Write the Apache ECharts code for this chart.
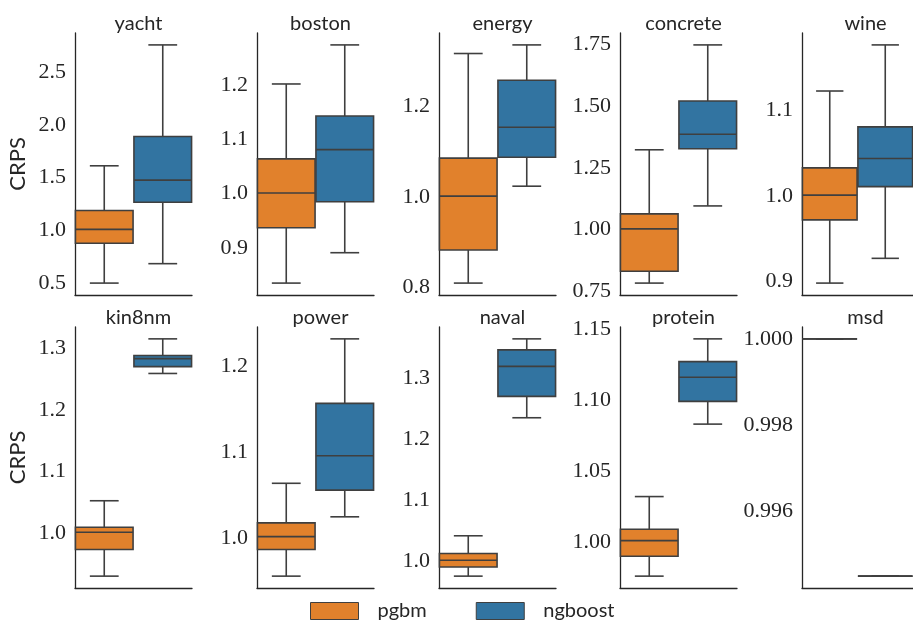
<!DOCTYPE html>
<html>
<head>
<meta charset="utf-8">
<script src="https://cdn.jsdelivr.net/npm/echarts@6/dist/echarts.min.js"></script>
<style>
html,body{margin:0;padding:0;background:#fff;}
#chart{width:913px;height:621px;}
</style>
</head>
<body>
<div id="chart"></div>
<script>
// ---- data ----
const datasets = ['yacht','boston','energy','concrete','wine','kin8nm','power','naval','protein','msd'];
const hues = ['pgbm','ngboost'];
// [lower whisker, Q1, median, Q3, upper whisker]
const pgbm = [
  [0.500, 0.877, 1.009, 1.187, 1.611],
  [0.835, 0.937, 1.001, 1.064, 1.202],
  [0.810, 0.883, 1.002, 1.086, 1.317],
  [0.784, 0.832, 1.003, 1.064, 1.323],
  [0.898, 0.972, 1.001, 1.033, 1.123],
  [0.931, 0.974, 1.002, 1.010, 1.053],
  [0.956, 0.987, 1.002, 1.018, 1.064],
  [0.976, 0.991, 1.002, 1.013, 1.042],
  [0.976, 0.990, 1.001, 1.009, 1.032],
  [1.000, 1.000, 1.000, 1.000, 1.000]
];
const ngboost = [
  [0.684, 1.266, 1.475, 1.889, 2.756],
  [0.891, 0.985, 1.081, 1.143, 1.274],
  [1.024, 1.088, 1.154, 1.258, 1.336],
  [1.096, 1.327, 1.386, 1.520, 1.747],
  [0.927, 1.011, 1.044, 1.081, 1.177],
  [1.259, 1.270, 1.283, 1.288, 1.315],
  [1.025, 1.056, 1.096, 1.157, 1.232],
  [1.235, 1.270, 1.319, 1.346, 1.364],
  [1.083, 1.099, 1.116, 1.127, 1.143],
  [0.99449, 0.99449, 0.99449, 0.99449, 0.99449]
];
const tickLabels = [
  ['0.5','1.0','1.5','2.0','2.5'],
  ['0.9','1.0','1.1','1.2'],
  ['0.8','1.0','1.2'],
  ['0.75','1.00','1.25','1.50','1.75'],
  ['0.9','1.0','1.1'],
  ['1.0','1.1','1.2','1.3'],
  ['1.0','1.1','1.2'],
  ['1.0','1.1','1.2','1.3'],
  ['1.00','1.05','1.10','1.15'],
  ['0.996','0.998','1.000']
];
const yLabel = 'CRPS';

// ---- layout / style ----
const colors = {pgbm:'#e1812c', ngboost:'#3274a1'};
const lineColor = '#3f3f3f';
const axisColor = '#262626';
const colLeft = [75, 257, 439, 620, 802];
const gridW = 117;
const rowTop = [33, 327];
const rowH = [262, 261];
const sansFont = 'Lato';
const serifFont = 'Liberation Serif';

const grids = [], xAxes = [], yAxes = [], series = [], titles = [];

function renderBox(params, api) {
  const cat = api.value(0);
  const lo = api.coord([cat, api.value(1)]);
  const q1 = api.coord([cat, api.value(2)]);
  const md = api.coord([cat, api.value(3)]);
  const q3 = api.coord([cat, api.value(4)]);
  const hi = api.coord([cat, api.value(5)]);
  const band = api.size([1, 0])[0];
  const bw = band * 0.985;
  const cw = bw / 2;
  const x = md[0];
  const ls = {stroke: lineColor, lineWidth: 1.6};
  return {
    type: 'group',
    children: [
      {type:'line', shape:{x1:x, y1:q1[1], x2:x, y2:lo[1]}, style:ls},
      {type:'line', shape:{x1:x, y1:q3[1], x2:x, y2:hi[1]}, style:ls},
      {type:'line', shape:{x1:x-cw/2, y1:lo[1], x2:x+cw/2, y2:lo[1]}, style:ls},
      {type:'line', shape:{x1:x-cw/2, y1:hi[1], x2:x+cw/2, y2:hi[1]}, style:ls},
      {type:'rect', shape:{x:x-bw/2, y:q3[1], width:bw, height:q1[1]-q3[1]},
        style:{fill: api.visual('color'), stroke: lineColor, lineWidth: 1.6}},
      {type:'line', shape:{x1:x-bw/2, y1:md[1], x2:x+bw/2, y2:md[1]}, style:ls}
    ]
  };
}

datasets.forEach(function(name, i) {
  const row = Math.floor(i / 5), col = i % 5;
  grids.push({left: colLeft[col], top: rowTop[row], width: gridW, height: rowH[row], containLabel: false});
  xAxes.push({
    type: 'category', gridIndex: i, data: hues, boundaryGap: true,
    axisLine: {show: true, lineStyle: {color: axisColor, width: 1.3}},
    axisTick: {show: false}, axisLabel: {show: false}, splitLine: {show: false}
  });
  const all = pgbm[i].concat(ngboost[i]);
  const dmin = Math.min.apply(null, all), dmax = Math.max.apply(null, all);
  const span = dmax - dmin;
  const labels = tickLabels[i];
  const vals = labels.map(Number);
  yAxes.push({
    type: 'value', gridIndex: i,
    min: dmin - 0.05 * span, max: dmax + 0.05 * span,
    axisLine: {show: true, lineStyle: {color: axisColor, width: 1.3}},
    axisTick: {show: false},
    splitLine: {show: false},
    axisLabel: {
      show: true, customValues: vals, margin: 9,
      fontFamily: serifFont, fontSize: 22, color: axisColor,
      formatter: function(v) {
        for (let k = 0; k < vals.length; k++) { if (Math.abs(vals[k] - v) < 1e-9) return labels[k]; }
        return '';
      }
    },
    name: col === 0 ? yLabel : '',
    nameLocation: 'middle', nameGap: 46, nameRotate: 90,
    nameTextStyle: {fontFamily: sansFont, fontSize: 22, color: axisColor}
  });
  titles.push({
    text: name, left: colLeft[col] + gridW / 2, top: rowTop[row] - 24, textAlign: 'center',
    textStyle: {fontFamily: sansFont, fontSize: 20, fontWeight: 'normal', color: axisColor}
  });
  [pgbm, ngboost].forEach(function(arr, h) {
    const s = arr[i];
    series.push({
      type: 'custom', name: hues[h], xAxisIndex: i, yAxisIndex: i,
      itemStyle: {color: colors[hues[h]]},
      encode: {x: 0, y: [1, 2, 3, 4, 5]},
      renderItem: renderBox,
      data: [[h, s[0], s[1], s[2], s[3], s[4]]],
      silent: true, animation: false
    });
  });
});

const chart = echarts.init(document.getElementById('chart'), null, {renderer: 'canvas'});
chart.setOption({
  backgroundColor: '#ffffff',
  animation: false,
  title: titles,
  grid: grids,
  xAxis: xAxes,
  yAxis: yAxes,
  legend: {
    data: hues, left: 310, top: 601, padding: 0, icon: 'rect',
    itemWidth: 48, itemHeight: 17, itemGap: 49,
    itemStyle: {borderColor: lineColor, borderWidth: 1},
    textStyle: {fontFamily: sansFont, fontSize: 20, color: axisColor, padding: [4, 0, 0, 14]}
  },
  series: series
});
</script>
</body>
</html>
